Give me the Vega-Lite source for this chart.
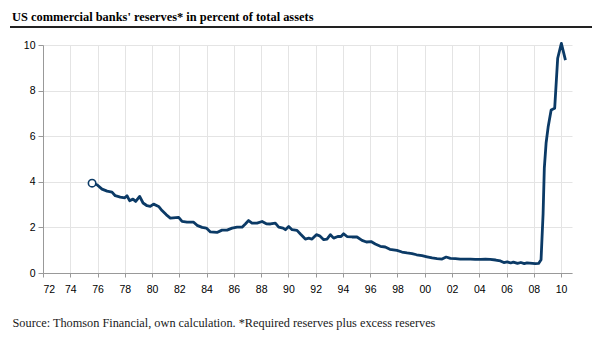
{
  "$schema": "https://vega.github.io/schema/vega-lite/v6.json",
  "autosize": {"type": "none"},
  "width": 529,
  "height": 228,
  "padding": {"left": 43, "top": 45, "right": 28, "bottom": 77},
  "background": "white",
  "config": {"view": {"stroke": null}},
  "title": {
    "text": "US commercial banks' reserves* in percent of total assets",
    "font": "Liberation Serif",
    "fontSize": 12.4,
    "fontWeight": "bold",
    "color": "#000000",
    "anchor": "start",
    "frame": "group",
    "dx": -31,
    "offset": 3
  },
  "data": {
    "values": [
      {"year": 1975.6, "pct": 3.94},
      {"year": 1975.96, "pct": 3.87},
      {"year": 1976.33, "pct": 3.68},
      {"year": 1976.7, "pct": 3.59},
      {"year": 1977.06, "pct": 3.55},
      {"year": 1977.3, "pct": 3.39},
      {"year": 1977.67, "pct": 3.33},
      {"year": 1978.0, "pct": 3.3},
      {"year": 1978.16, "pct": 3.39},
      {"year": 1978.35, "pct": 3.17},
      {"year": 1978.6, "pct": 3.24},
      {"year": 1978.8, "pct": 3.14},
      {"year": 1979.09, "pct": 3.36},
      {"year": 1979.34, "pct": 3.07},
      {"year": 1979.63, "pct": 2.95},
      {"year": 1979.87, "pct": 2.92},
      {"year": 1980.11, "pct": 3.02},
      {"year": 1980.48, "pct": 2.92},
      {"year": 1980.73, "pct": 2.74},
      {"year": 1981.05, "pct": 2.55},
      {"year": 1981.34, "pct": 2.41},
      {"year": 1981.95, "pct": 2.44},
      {"year": 1982.2, "pct": 2.26},
      {"year": 1982.56, "pct": 2.23},
      {"year": 1983.05, "pct": 2.23},
      {"year": 1983.3, "pct": 2.09},
      {"year": 1983.67, "pct": 2.0},
      {"year": 1983.98, "pct": 1.97},
      {"year": 1984.28, "pct": 1.8},
      {"year": 1984.76, "pct": 1.78},
      {"year": 1985.13, "pct": 1.88},
      {"year": 1985.5, "pct": 1.88},
      {"year": 1985.87, "pct": 1.97},
      {"year": 1986.23, "pct": 2.01},
      {"year": 1986.6, "pct": 2.01},
      {"year": 1986.84, "pct": 2.15},
      {"year": 1987.08, "pct": 2.3},
      {"year": 1987.33, "pct": 2.19},
      {"year": 1987.7, "pct": 2.19},
      {"year": 1988.07, "pct": 2.26},
      {"year": 1988.38, "pct": 2.16},
      {"year": 1988.68, "pct": 2.15},
      {"year": 1989.04, "pct": 2.19},
      {"year": 1989.29, "pct": 2.01},
      {"year": 1989.61, "pct": 1.97},
      {"year": 1989.78, "pct": 1.9},
      {"year": 1990.02, "pct": 2.04},
      {"year": 1990.27, "pct": 1.9},
      {"year": 1990.63, "pct": 1.87},
      {"year": 1990.88, "pct": 1.71},
      {"year": 1991.24, "pct": 1.49},
      {"year": 1991.49, "pct": 1.53},
      {"year": 1991.73, "pct": 1.49},
      {"year": 1992.05, "pct": 1.68},
      {"year": 1992.29, "pct": 1.63},
      {"year": 1992.59, "pct": 1.46},
      {"year": 1992.83, "pct": 1.49},
      {"year": 1993.08, "pct": 1.68},
      {"year": 1993.32, "pct": 1.53},
      {"year": 1993.62, "pct": 1.6},
      {"year": 1993.86, "pct": 1.6},
      {"year": 1994.05, "pct": 1.72},
      {"year": 1994.3, "pct": 1.6},
      {"year": 1994.67, "pct": 1.58},
      {"year": 1995.03, "pct": 1.58},
      {"year": 1995.4, "pct": 1.43},
      {"year": 1995.72, "pct": 1.36},
      {"year": 1996.06, "pct": 1.38},
      {"year": 1996.37, "pct": 1.27},
      {"year": 1996.74, "pct": 1.17},
      {"year": 1997.1, "pct": 1.14},
      {"year": 1997.44, "pct": 1.04},
      {"year": 1997.96, "pct": 0.99},
      {"year": 1998.33, "pct": 0.92},
      {"year": 1998.7, "pct": 0.88},
      {"year": 1999.07, "pct": 0.85},
      {"year": 1999.4, "pct": 0.8},
      {"year": 1999.8, "pct": 0.76},
      {"year": 2000.17, "pct": 0.71},
      {"year": 2000.54, "pct": 0.66},
      {"year": 2000.9, "pct": 0.63},
      {"year": 2001.27, "pct": 0.61},
      {"year": 2001.57, "pct": 0.7},
      {"year": 2001.88, "pct": 0.64},
      {"year": 2002.25, "pct": 0.63},
      {"year": 2002.6, "pct": 0.61},
      {"year": 2002.98, "pct": 0.61},
      {"year": 2003.35, "pct": 0.61},
      {"year": 2003.7, "pct": 0.6},
      {"year": 2004.1, "pct": 0.6},
      {"year": 2004.45, "pct": 0.61},
      {"year": 2004.8, "pct": 0.6},
      {"year": 2005.2, "pct": 0.57},
      {"year": 2005.55, "pct": 0.53},
      {"year": 2005.8, "pct": 0.46},
      {"year": 2006.05, "pct": 0.49},
      {"year": 2006.3, "pct": 0.44},
      {"year": 2006.5, "pct": 0.48},
      {"year": 2006.8, "pct": 0.42},
      {"year": 2007.05, "pct": 0.46},
      {"year": 2007.3, "pct": 0.41},
      {"year": 2007.5, "pct": 0.44},
      {"year": 2007.9, "pct": 0.42},
      {"year": 2008.1, "pct": 0.41},
      {"year": 2008.35, "pct": 0.42},
      {"year": 2008.53, "pct": 0.58},
      {"year": 2008.68, "pct": 2.6},
      {"year": 2008.77, "pct": 4.6},
      {"year": 2008.9, "pct": 5.7},
      {"year": 2009.05, "pct": 6.4},
      {"year": 2009.27, "pct": 7.15},
      {"year": 2009.53, "pct": 7.23},
      {"year": 2009.75, "pct": 9.42},
      {"year": 2010.02, "pct": 10.07},
      {"year": 2010.32, "pct": 9.34}
    ]
  },
  "encoding": {
    "x": {
      "field": "year",
      "type": "quantitative",
      "scale": {"domain": [1972, 2010.8], "nice": false, "zero": false},
      "axis": {
        "values": [1972, 1974, 1976, 1978, 1980, 1982, 1984, 1986, 1988, 1990, 1992, 1994, 1996, 1998, 2000, 2002, 2004, 2006, 2008, 2010],
        "format": "d",
        "labelExpr": "slice(datum.label, 2)",
        "labelFont": "Liberation Sans",
        "labelFontSize": 10.5,
        "labelColor": "#000000",
        "labelPadding": 7,
        "tickSize": 4,
        "tickColor": "#999999",
        "domainColor": "#999999",
        "gridColor": "#e4e4e4",
        "grid": true,
        "title": "Source: Thomson Financial, own calculation. *Required reserves plus excess reserves",
        "titleFont": "Liberation Serif",
        "titleFontSize": 12.3,
        "titleFontWeight": "normal",
        "titleColor": "#1a1a1a",
        "titleAnchor": "start",
        "titleAlign": "left",
        "titleBaseline": "alphabetic",
        "titleX": -31,
        "titleY": 53
      }
    },
    "y": {
      "field": "pct",
      "type": "quantitative",
      "scale": {"domain": [0, 10], "nice": false},
      "axis": {
        "values": [0, 2, 4, 6, 8, 10],
        "labelFont": "Liberation Sans",
        "labelFontSize": 10.5,
        "labelColor": "#000000",
        "labelPadding": 3,
        "tickSize": 5,
        "tickColor": "#999999",
        "domainColor": "#999999",
        "gridColor": "#e4e4e4",
        "grid": true,
        "title": null
      }
    }
  },
  "layer": [
    {
      "mark": {"type": "line", "color": "#0b3a66", "strokeWidth": 2.8, "strokeJoin": "round"}
    },
    {
      "transform": [{"filter": "datum.year == 1975.6"}],
      "mark": {"type": "point", "shape": "circle", "filled": true, "fill": "white", "stroke": "#0b3a66", "strokeWidth": 1.6, "size": 55, "opacity": 1}
    },
    {
      "mark": {"type": "rule", "color": "#222222", "strokeWidth": 1.5, "clip": false},
      "encoding": {
        "x": {"datum": 1969.6, "type": "quantitative"},
        "x2": {"datum": 2012.2},
        "y": {"datum": 10.8, "type": "quantitative"}
      }
    }
  ]
}
